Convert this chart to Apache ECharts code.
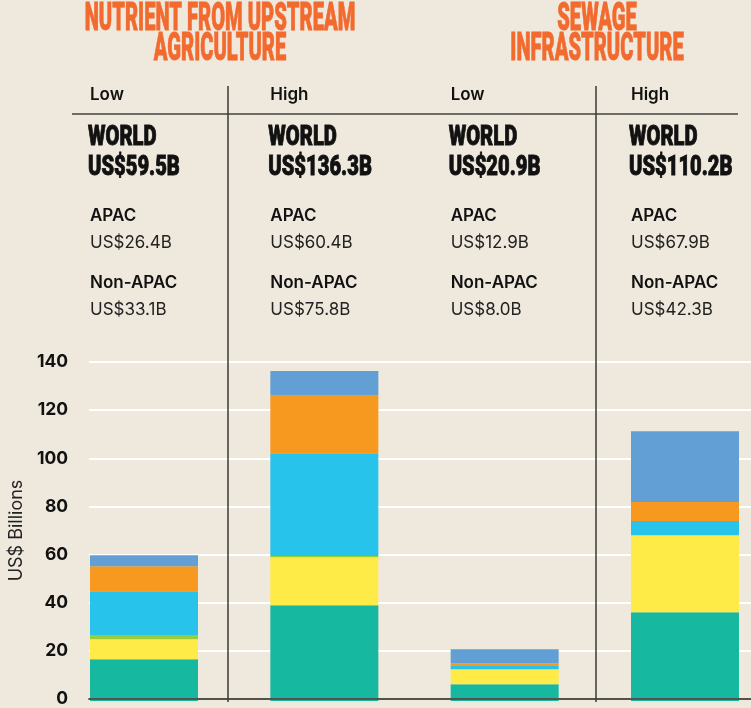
<!DOCTYPE html>
<html>
<head>
<meta charset="utf-8">
<title>Nutrient and sewage costs</title>
<script src="https://cdn.jsdelivr.net/npm/echarts@6/dist/echarts.min.js"></script>
<style>
  html, body { margin: 0; padding: 0; background: #efe8dd; }
  #chart { width: 751px; height: 708px; }
</style>
</head>
<body>
<div id="chart"></div>
<script>
// 分组标题 / 情景
var groupTitles = [['NUTRIENT FROM UPSTREAM', 'AGRICULTURE'], ['SEWAGE', 'INFRASTRUCTURE']];
var scenarios = ['Low', 'High', 'Low', 'High'];
var worldTotals = ['US$59.5B', 'US$136.3B', 'US$20.9B', 'US$110.2B'];
var apacTotals = ['US$26.4B', 'US$60.4B', 'US$12.9B', 'US$67.9B'];
var nonApacTotals = ['US$33.1B', 'US$75.8B', 'US$8.0B', 'US$42.3B'];

// 堆叠段 (从下到上)
var seg1 = [17.2, 39.5, 6.9, 36.7];
var seg2 = [8.3, 19.9, 6.2, 31.8];
var seg3 = [1.4, 0.5, 0, 0];
var seg4 = [18.4, 42.4, 1.4, 5.8];
var seg5 = [10.3, 24.1, 1.1, 7.9];
var seg6 = [4.6, 9.9, 5.8, 29.2];

var yTicks = [0, 20, 40, 60, 80, 100, 120, 140];

var segColors = ['#17b8a0', '#ffeb47', '#9acd3c', '#27c3eb', '#f7981f', '#629fd5'];
var segs = [seg1, seg2, seg3, seg4, seg5, seg6];

var chart = echarts.init(document.getElementById('chart'));

var yBase = {
  type: 'value',
  min: yTicks[0],
  max: yTicks[yTicks.length - 1],
  interval: 20
};

var series = segs.map(function (arr, k) {
  return {
    name: 'Segment ' + (k + 1),
    type: 'bar',
    stack: 'total',
    barWidth: 108,
    clip: false,
    xAxisIndex: 1,
    yAxisIndex: 1,
    itemStyle: { color: segColors[k] },
    data: arr
  };
});

chart.setOption({
  backgroundColor: '#efe8dd',
  animation: false,
  // grid 0: 网格线和坐标轴; grid 1: 柱子 (柱子中心在两端刻度上)
  grid: [
    { left: 84, right: 0, top: 362, bottom: 7 },
    { left: 144, right: 66, top: 362, bottom: 7 }
  ],
  xAxis: [{
    gridIndex: 0,
    type: 'value',
    min: 0,
    max: 1,
    axisLabel: { show: false },
    axisTick: { show: false },
    splitLine: { show: false },
    axisLine: { show: true, lineStyle: { color: '#55524c', width: 2 } },
    z: 10
  }, {
    gridIndex: 1,
    type: 'category',
    boundaryGap: false,
    data: scenarios,
    show: false
  }],
  yAxis: [Object.assign({}, yBase, {
    gridIndex: 0,
    name: 'US$ Billions',
    nameLocation: 'middle',
    nameGap: 60,
    nameRotate: 90,
    nameTextStyle: { fontFamily: 'Inter', fontSize: 18, color: '#222' },
    axisLine: { show: false },
    axisTick: { show: false },
    axisLabel: { margin: 21, fontFamily: 'Inter', fontWeight: 700, fontSize: 17.5, color: '#111' },
    splitLine: { lineStyle: { color: '#ffffff', width: 2 } }
  }), Object.assign({}, yBase, {
    gridIndex: 1,
    show: false
  })],
  series: series
});

// 顶部文字
var gfx = [];
var titleX = [220, 597];
groupTitles.forEach(function (lines, g) {
  lines.forEach(function (t, l) {
    gfx.push({
      type: 'text', x: titleX[g], y: 20 + l * 30.5, scaleX: 0.53,
      style: { text: t, fill: '#f26a2e', stroke: '#f26a2e', lineWidth: 0.8, font: '900 38px Roboto', textAlign: 'center', textVerticalAlign: 'middle' }
    });
  });
});

gfx.push({ type: 'line', shape: { x1: 72, y1: 114, x2: 738, y2: 114 }, style: { stroke: '#6e6b64', lineWidth: 2 } });
[228, 596].forEach(function (x) {
  gfx.push({ type: 'line', shape: { x1: x, y1: 86, x2: x, y2: 702 }, style: { stroke: '#3a3a38', lineWidth: 1.5 }, z: 20 });
});

var bigFont = { fill: '#111', stroke: '#111', lineWidth: 0.9, font: '900 28px Roboto', textVerticalAlign: 'middle' };

scenarios.forEach(function (s, i) {
  var left = chart.convertToPixel({ xAxisIndex: 1 }, i) - 54;
  gfx.push({ type: 'text', x: left, y: 95, style: { text: s, fill: '#111', font: '600 17px Inter', textVerticalAlign: 'middle' } });
  gfx.push({ type: 'text', x: left - 2, y: 138, scaleX: 0.72, style: Object.assign({ text: 'WORLD' }, bigFont) });
  gfx.push({ type: 'text', x: left - 2, y: 168, scaleX: 0.72, style: Object.assign({ text: worldTotals[i] }, bigFont) });
  gfx.push({ type: 'text', x: left, y: 216, style: { text: 'APAC', fill: '#111', font: '600 17px Inter', textVerticalAlign: 'middle' } });
  gfx.push({ type: 'text', x: left, y: 243, style: { text: apacTotals[i], fill: '#222', font: '400 17px Inter', textVerticalAlign: 'middle' } });
  gfx.push({ type: 'text', x: left, y: 283, style: { text: 'Non-APAC', fill: '#111', font: '600 17px Inter', textVerticalAlign: 'middle' } });
  gfx.push({ type: 'text', x: left, y: 310, style: { text: nonApacTotals[i], fill: '#222', font: '400 17px Inter', textVerticalAlign: 'middle' } });
});

chart.setOption({ graphic: gfx });
</script>
</body>
</html>
